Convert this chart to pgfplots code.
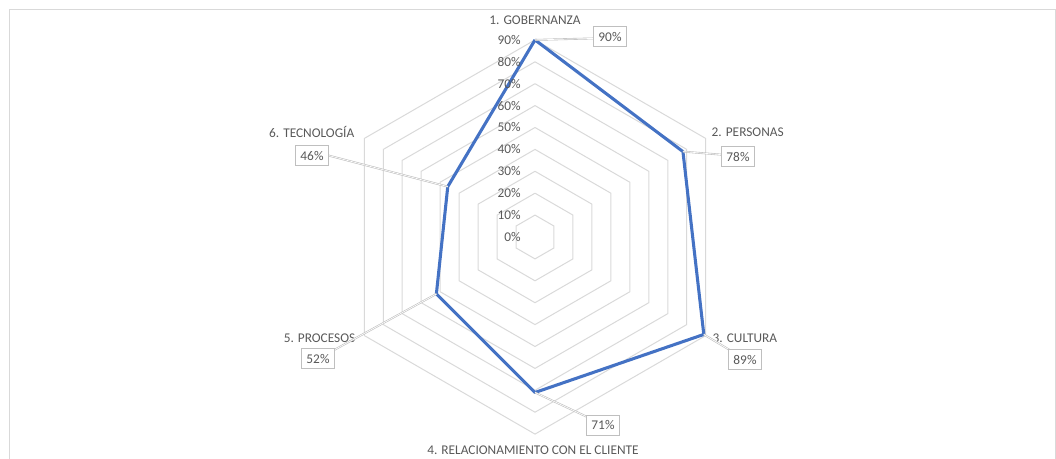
\documentclass[border=0pt]{standalone}
\usepackage{fontspec}
\setmainfont{Carlito}
\usepackage{pgfplots}
\pgfplotsset{compat=1.18}
\definecolor{serie}{HTML}{4472C4}
\definecolor{rejilla}{HTML}{D9D9D9}
\definecolor{texto}{HTML}{595959}
\definecolor{caja}{HTML}{BFBFBF}

\begin{document}
\begin{tikzpicture}[x=0.75pt,y=0.75pt,font=\fontsize{10}{12}\selectfont,text=texto]
\useasboundingbox (0,0) rectangle (1056,-459);
\draw[rejilla, line width=0.75pt] (9.5,-470) -- (9.5,-9.5) -- (1055,-9.5) -- (1055,-470);

\begin{axis}[hide axis, scale only axis,
  x=1.6425pt, y=1.6425pt,
  xmin=-100, xmax=100, ymin=-100, ymax=100,
  clip=false, at={(401.25pt,-177.75pt)}, anchor=origin]

  % hexagonal grid, 10% .. 90%
  \pgfplotsinvokeforeach{10,20,...,90}{
    \addplot[rejilla, line width=0.75pt, data cs=polar, no markers]
      coordinates {(90,#1) (30,#1) (-30,#1) (-90,#1) (210,#1) (150,#1) (90,#1)};
  }

  % series
  \addplot[serie, line width=2.3pt, line join=round, data cs=polar, no markers]
    coordinates {(90,90) (30,78) (-30,89) (-90,71) (210,52) (150,46) (90,90)};

  \coordinate (p1) at (axis cs:0,90);
  \coordinate (p2) at (axis cs:{78*cos(30)},{78*sin(30)});
  \coordinate (p3) at (axis cs:{89*cos(30)},{-89*sin(30)});
  \coordinate (p4) at (axis cs:0,-71);
  \coordinate (p5) at (axis cs:{-52*cos(30)},{-52*sin(30)});
  \coordinate (p6) at (axis cs:{-46*cos(30)},{46*sin(30)});
\end{axis}

% radial tick labels
\foreach \k in {0,...,9} {
  \pgfmathtruncatemacro\v{10*\k}
  \node[anchor=east, inner sep=0pt] at (521,{-237+21.9*\k}) {\v\%};
}

% category labels
\node at (535,-20) {1. GOBERNANZA};
\node[anchor=west] at (707,-132) {2. PERSONAS};
\node[anchor=west] at (708,-338) {3. CULTURA};
\node at (533,-450) {4. RELACIONAMIENTO CON EL CLIENTE};
\node[anchor=east] at (360,-338) {5. PROCESOS};
\node[anchor=east] at (359,-132) {6. TECNOLOGÍA};

% data labels
\tikzset{dl/.style={draw=caja, fill=white, line width=0.75pt, inner xsep=3.5pt, minimum height=15pt},
         ld/.style={draw=caja, double=white, line width=0.45pt, double distance=0.5pt}}
\draw[ld] (p1) -- (610,-38);
\draw[ld] (p2) -- (738,-156);
\draw[ld] (p3) -- (738,-355);
\draw[ld] (p4) -- (598,-422);
\draw[ld] (p5) -- (325,-355);
\draw[ld] (p6) -- (315,-152);
\node[dl] at (610,-37) {90\%};
\node[dl] at (738,-157) {78\%};
\node[dl] at (745,-360) {89\%};
\node[dl] at (603,-425) {71\%};
\node[dl] at (318,-359) {52\%};
\node[dl] at (312,-156) {46\%};
\end{tikzpicture}
\end{document}
